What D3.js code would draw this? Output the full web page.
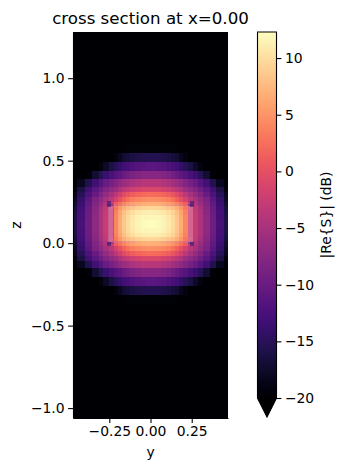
<!DOCTYPE html>
<html><head><meta charset="utf-8">
<script src="https://cdn.jsdelivr.net/npm/d3@7"></script>
<style>
html,body{margin:0;padding:0;background:#fff}
svg{display:block}
text{font-family:"DejaVu Sans",sans-serif;fill:#000}
</style></head><body><div id="c"></div>
<script>
// Half-grid cell edges (um), measured outward from the mode centre
const colEdges = [0,.031,.062,.093,.124,.148,.175,.199,.226,.256,.287,.317,.358,.40,.445,.47];
const rowEdges = [0,.027,.055,.082,.106,.136,.164,.194,.224,.27,.321,.376,.43,.485];
const zCentre = 0.118;
// |Re{S}| dB values: rows from centre outward, columns from centre outward
const quadrant = [
 [12.2,12.1,11.6,10.9,10,8.6,6.8,4.2,-1,-2.5,-4.5,-7,-9.5,-12.5,-15.6],
 [11.9,11.8,11.3,10.7,9.8,8.4,6.6,4.2,-1,-2.5,-4.5,-7,-9.6,-12.6,-15.8],
 [11.2,11.1,10.7,10.1,9.2,8,6.2,3.8,-1.2,-2.7,-4.7,-7.2,-9.8,-12.8,-16],
 [9.6,9.5,9.1,8.5,7.8,6.8,5.2,3.2,-.5,-3,-5,-7.5,-10,-13,-16.5],
 [7,6.8,6.4,5.8,5,4,2.5,1,-2,-4,-6,-8,-10.5,-13.5,-17],
 [4.8,4.6,4.2,3.6,2.8,1.5,0,-1.5,-3.5,-5,-7,-8.5,-11,-14,-17.5],
 [2.4,2.2,1.8,1.2,.5,-.5,-2,-3.5,-5,-6.5,-8,-10,-12,-15,-18],
 [-.9,-1,-1.5,-2,-2.8,-3.5,-4.5,-6,-7,-8,-9.5,-11,-13,-16,-19],
 [-3.6,-3.8,-4.2,-4.8,-5.5,-6,-7,-8,-9,-10,-11.5,-13,-15.5,-18,-21],
 [-7.4,-7.6,-8,-8.5,-9.2,-10,-10.8,-11.5,-12.5,-13.5,-15,-17,-19.5,-21,-22],
 [-11,-11.2,-11.5,-12,-12.5,-13,-14,-15,-16,-17.5,-19,-21,-22,-23,-24],
 [-15.5,-15.5,-15.7,-16,-16.5,-17,-18,-19,-20.5,-21,-22,-23,-24,-25,-26],
 [-19.5,-19.5,-19.5,-19.6,-19.7,-19.8,-19.9,-20.5,-21,-22,-23,-24,-25,-26,-27]
];
// Waveguide overlay patches: y0,y1,z0,z1,colour,alpha (um, symmetric in y)
const overlay = [
 [.226,.256,.002,.228,"#c8b0e8",.3],
 [.226,.256,-.004,.006,"#5a2a90",.5],
 [.226,.256,.226,.236,"#5a2a90",.5],
 [.084,.226,.0,.011,"#b8a0d8",.2],
 [.084,.226,.222,.236,"#b8a0d8",.15],
 [.24,.265,.222,.255,"#3a1878",.65],
 [.24,.265,-.018,.006,"#3a1878",.65]
];
const yTicks = [-.25,0,.25];
const zTicks = [-1,-.5,0,.5,1];
const barTicks = [-20,-15,-10,-5,0,5,10];
const vMin = -20, vMax = 12.3;
const labels = {title:"cross section at x=0.00", x:"y", y:"z", bar:"|Re{S}| (dB)"};

const W=345,H=470;
const svg=d3.select("#c").append("svg").attr("width",W).attr("height",H);
const x=d3.scaleLinear().domain([-.47,.47]).range([73,228]);
const y=d3.scaleLinear().domain([-1.06,1.28]).range([418,32]);
const c=v=>d3.interpolateMagma(Math.max(0,Math.min(1,(v-vMin)/(vMax-vMin))));

const clipId="plotclip";
svg.append("clipPath").attr("id",clipId).append("rect").attr("x",73).attr("y",32).attr("width",155).attr("height",386);
const plot=svg.append("g").attr("clip-path",`url(#${clipId})`);
plot.append("rect").attr("x",73).attr("y",32).attr("width",155).attr("height",386).attr("fill",c(vMin));

const cells=[];
quadrant.forEach((row,i)=>row.forEach((v,j)=>{
  [1,-1].forEach(sy=>[1,-1].forEach(sz=>{
    cells.push({y0:sy*colEdges[j],y1:sy*colEdges[j+1],z0:zCentre+sz*rowEdges[i],z1:zCentre+sz*rowEdges[i+1],v});
  }));
}));
plot.selectAll("rect.cell").data(cells).join("rect").attr("class","cell")
 .attr("x",d=>Math.min(x(d.y0),x(d.y1))).attr("y",d=>Math.min(y(d.z0),y(d.z1)))
 .attr("width",d=>Math.abs(x(d.y1)-x(d.y0))+.3).attr("height",d=>Math.abs(y(d.z1)-y(d.z0))+.3)
 .attr("fill",d=>c(d.v)).attr("shape-rendering","crispEdges");

overlay.forEach(o=>[1,-1].forEach(s=>{
  const a=x(s*o[0]),b=x(s*o[1]);
  plot.append("rect").attr("x",Math.min(a,b)).attr("width",Math.abs(b-a))
   .attr("y",y(o[3])).attr("height",y(o[2])-y(o[3]))
   .attr("fill",o[4]).attr("opacity",o[5]).attr("shape-rendering","crispEdges");
}));

const fs="13.9px";
function style(g){
  g.attr("font-size",null).attr("font-family",null);
  g.selectAll("text").style("font-size",fs).style("font-family",'"DejaVu Sans",sans-serif');
  g.selectAll("line").attr("stroke","#000").attr("stroke-width",1.1);
  g.select(".domain").attr("stroke","#000").attr("stroke-width",1.1);
}
const gx=svg.append("g").attr("transform","translate(0,418)")
 .call(d3.axisBottom(x).tickValues(yTicks).tickFormat(d3.format(".2f")).tickSize(4.9).tickPadding(3.5).tickSizeOuter(0));
style(gx);
const gy=svg.append("g").attr("transform","translate(73,0)")
 .call(d3.axisLeft(y).tickValues(zTicks).tickFormat(d3.format(".1f")).tickSize(4.9).tickPadding(3.5).tickSizeOuter(0));
style(gy);

svg.append("text").attr("x",150.5).attr("y",24).attr("text-anchor","middle").style("font-size","16.67px").text(labels.title);
svg.append("text").attr("x",150.5).attr("y",457).attr("text-anchor","middle").style("font-size",fs).text(labels.x);
svg.append("text").attr("transform","translate(21,225) rotate(-90)").attr("text-anchor","middle").style("font-size",fs).text(labels.y);

// colour bar
const bx0=257.5,bx1=276.5;
const b=d3.scaleLinear().domain([vMin,vMax]).range([398,32]);
const grad=svg.append("defs").append("linearGradient").attr("id","barGrad").attr("x1",0).attr("x2",0).attr("y1",1).attr("y2",0);
grad.selectAll("stop").data(d3.range(0,65)).join("stop")
 .attr("offset",i=>i/64).attr("stop-color",i=>d3.interpolateMagma(i/64));
svg.append("rect").attr("x",bx0).attr("y",b(vMax)).attr("width",bx1-bx0).attr("height",b(vMin)-b(vMax)).attr("fill","url(#barGrad)");
const tri=d3.path();
tri.moveTo(bx0,398);tri.lineTo((bx0+bx1)/2,417);tri.lineTo(bx1,398);tri.closePath();
svg.append("path").attr("d",tri.toString()).attr("fill","#000");
const outline=d3.path();
outline.moveTo(bx0,398);outline.lineTo(bx0,32);outline.lineTo(bx1,32);outline.lineTo(bx1,398);outline.lineTo((bx0+bx1)/2,417);outline.closePath();
svg.append("path").attr("d",outline.toString()).attr("fill","none").attr("stroke","#000").attr("stroke-width",1.1);
const gb=svg.append("g").attr("transform",`translate(${bx1},0)`)
 .call(d3.axisRight(b).tickValues(barTicks).tickFormat(d3.format("d")).tickSize(4.9).tickPadding(3.5).tickSizeOuter(0));
style(gb);
gb.select(".domain").remove();
svg.append("text").attr("transform","translate(331,215) rotate(-90)").attr("text-anchor","middle").style("font-size",fs).text(labels.bar);
</script></body></html>
